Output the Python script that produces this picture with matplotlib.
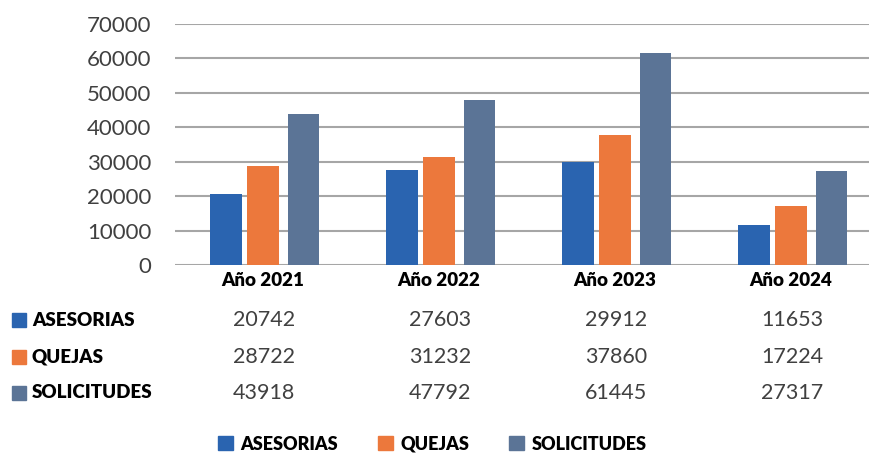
import matplotlib.pyplot as plt
import matplotlib.patches as mpatches
from matplotlib.transforms import blended_transform_factory
import numpy as np

categories = ['Año 2021', 'Año 2022', 'Año 2023', 'Año 2024']
series_names = ['ASESORIAS', 'QUEJAS', 'SOLICITUDES']
asesorias = [20742, 27603, 29912, 11653]
quejas = [28722, 31232, 37860, 17224]
solicitudes = [43918, 47792, 61445, 27317]
y_ticks = [0, 10000, 20000, 30000, 40000, 50000, 60000, 70000]

colors = ['#2a64b0', '#ec783c', '#5b7496']
series = [asesorias, quejas, solicitudes]

plt.rcParams['font.family'] = ['Lato', 'DejaVu Sans']

fig = plt.figure(figsize=(8.7, 4.54), dpi=100)
W, H = 870, 454
ax = fig.add_axes([175 / W, 1 - 265 / H, 704 / W, 241 / H])

x = np.arange(len(categories))
width = 0.18
offsets = [-0.21, 0.0, 0.23]
for vals, col, off, name in zip(series, colors, offsets, series_names):
    ax.bar(x + off, vals, width, color=col, label=name, zorder=3)

ax.set_xlim(-0.5, 3.5)
ax.set_ylim(0, 70000)
ax.set_yticks(y_ticks)
ax.set_yticklabels([str(v) for v in y_ticks], fontsize=16, color='#404040')
ax.yaxis.grid(True, color='#a6a6a6', linewidth=1.5, zorder=0)
ax.tick_params(axis='y', length=0, pad=17)
ax.set_xticks(x)
ax.set_xticklabels(categories, fontsize=13.5, fontweight='heavy', color='black')
ax.tick_params(axis='x', length=0, pad=5)
for s in ax.spines.values():
    s.set_visible(False)

# data table below the chart
tr = blended_transform_factory(ax.transData, fig.transFigure)
row_y = [320, 357, 393]
for vals, name, col, ry in zip(series, series_names, colors, row_y):
    yf = 1 - ry / H
    fig.patches.append(mpatches.Rectangle((12 / W, yf - 7 / H), 14 / W, 14 / H,
                                          color=col, transform=fig.transFigure))
    fig.text(32 / W, yf, name, fontsize=13.5, fontweight='heavy', color='black',
             va='center', ha='left')
    for xi, v in zip(x, vals):
        ax.text(xi + 0.005, yf, str(v), transform=tr, fontsize=15.5, color='#404040',
                ha='center', va='center')

handles = [mpatches.Patch(color=c, label=n) for c, n in zip(colors, series_names)]
leg = fig.legend(handles=handles, loc='center', bbox_to_anchor=(432 / W, 1 - 444 / H),
                 ncol=3, frameon=False, handlelength=0.85, handleheight=0.85,
                 handletextpad=0.4, columnspacing=2.2,
                 prop={'size': 13, 'weight': 'heavy'})

fig.savefig('out.png', dpi=100)
